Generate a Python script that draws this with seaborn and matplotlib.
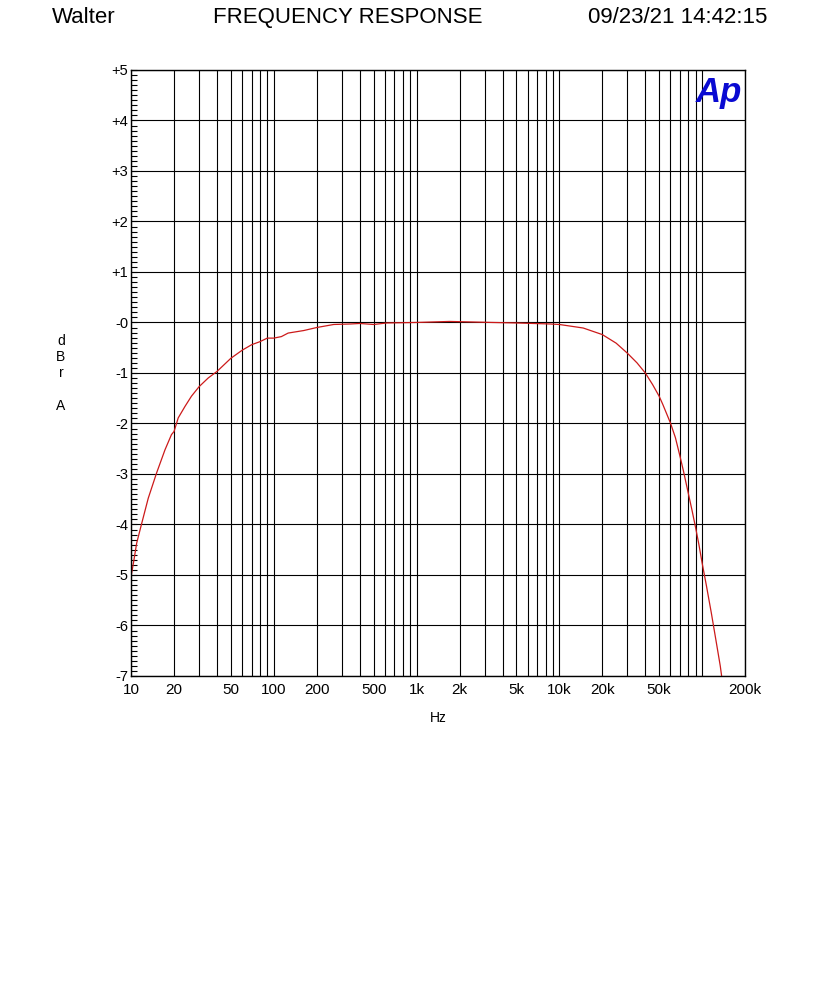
import numpy as np
import pandas as pd
import seaborn as sns
import matplotlib.pyplot as plt
from matplotlib.ticker import FixedLocator, FuncFormatter, MultipleLocator, NullFormatter

sns.set_style("white")
plt.rcParams['font.family'] = ['Liberation Sans', 'DejaVu Sans']
plt.rcParams['text.color'] = 'black'
plt.rcParams['xtick.color'] = 'black'
plt.rcParams['ytick.color'] = 'black'
plt.rcParams['axes.labelcolor'] = 'black'

freq_hz = [10, 10.4, 10.95, 11.9, 13.2, 15.1, 17.3, 19.2, 20, 21.4, 23.9, 26.5,
           30, 34.7, 40, 50, 60, 70, 80, 90, 100, 113, 126, 162, 200, 263, 345,
           400, 500, 620, 1000, 1700, 3400, 5000, 8600, 10000, 14700, 20000,
           25000, 30000, 35000, 40000, 45000, 50000, 53000, 60000, 65000,
           70000, 74000, 80000, 85000, 90000, 95000, 100000, 107000, 116000,
           126000, 134000, 137000]
level_dbr = [-5.03, -4.76, -4.37, -3.97, -3.48, -2.98, -2.52, -2.22, -2.16, -1.89,
             -1.66, -1.46, -1.27, -1.10, -0.97, -0.71, -0.55, -0.44, -0.38, -0.31,
             -0.31, -0.28, -0.21, -0.16, -0.10, -0.04, -0.03, -0.02, -0.04, -0.01,
             0.0, 0.02, 0.0, -0.01, -0.03, -0.04, -0.11, -0.24, -0.41, -0.61,
             -0.80, -1.0, -1.23, -1.46, -1.62, -1.99, -2.28, -2.65, -2.94, -3.38,
             -3.72, -4.06, -4.4, -4.76, -5.2, -5.75, -6.35, -6.80, -7.0]

x_tick_vals = [10, 20, 50, 100, 200, 500, 1e3, 2e3, 5e3, 1e4, 2e4, 5e4, 2e5]
x_tick_labels = ["10", "20", "50", "100", "200", "500", "1k", "2k", "5k",
                 "10k", "20k", "50k", "200k"]

df = pd.DataFrame({"Hz": freq_hz, "dBr": level_dbr})

fig = plt.figure(figsize=(8.4, 10.08), dpi=100)
ax = fig.add_axes([0.156, 0.3294, 0.731, 0.6012])

sns.lineplot(data=df, x="Hz", y="dBr", color="#cc1a1a", linewidth=0.9, ax=ax)
ax.set_xscale("log")
ax.set_xlim(10, 2e5)
ax.set_ylim(-7, 5)

# x: labelled majors, unlabelled minors for the rest of the grid
grid_x = [m * 10 ** d for d in range(1, 6) for m in range(1, 10) if m * 10 ** d <= 1e5]
ax.xaxis.set_major_locator(FixedLocator(x_tick_vals))
ax.set_xticklabels(x_tick_labels)
ax.xaxis.set_minor_locator(FixedLocator([g for g in grid_x if g not in x_tick_vals]))
ax.xaxis.set_minor_formatter(NullFormatter())

ax.yaxis.set_major_locator(MultipleLocator(1))
ax.yaxis.set_minor_locator(MultipleLocator(0.1))
ax.yaxis.set_major_formatter(FuncFormatter(lambda v, p: ("+%d" % round(v)) if v > 0.5 else "-%d" % abs(round(v))))

ax.grid(True, which="major", color="black", linewidth=0.8)
ax.grid(True, which="minor", axis="x", color="black", linewidth=0.8)
ax.tick_params(axis="x", which="both", length=0, labelsize=11, pad=5)
ax.tick_params(axis="y", which="major", direction="in", length=4.5, width=0.8, labelsize=10.5, pad=2, left=True)
ax.tick_params(axis="y", which="minor", direction="in", length=4.5, width=0.8, left=True)
for s in ax.spines.values():
    s.set_color("black")
    s.set_linewidth(1.0)

ax.set_xlabel("Hz", fontsize=10, labelpad=10)
ax.set_ylabel("")

fig.text(0.0726, 0.6295, "d\nB\nr\n\nA", fontsize=10, ha="center", va="center")

fig.text(0.1, 0.983, "Walter", fontsize=16, ha="center", va="center")
fig.text(0.414, 0.983, "FREQUENCY RESPONSE", fontsize=16, ha="center", va="center")
fig.text(0.8066, 0.983, "09/23/21 14:42:15", fontsize=16, ha="center", va="center")

ax.text(0.995, 0.99, "Ap", transform=ax.transAxes, fontsize=25, fontweight="bold",
        fontstyle="italic", color="#0a0ad2", ha="right", va="top")

fig.savefig("out.png", dpi=100)
